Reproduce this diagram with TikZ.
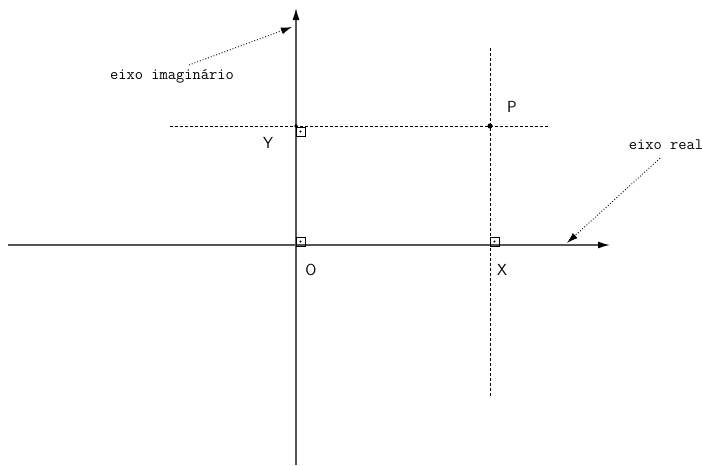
\documentclass[tikz,border=0pt]{standalone}
\usepackage{tikz}
\usetikzlibrary{arrows.meta,positioning}
\definecolor{axisgray}{RGB}{85,85,85}

\begin{document}
\begin{tikzpicture}[x=1pt,y=-1pt,>={Latex[length=12pt,width=7pt,color=black]}]
  \tikzset{
    axisline/.style={->,draw=axisgray,line width=1.4pt},
    guideline/.style={dash pattern=on 3pt off 2pt,line width=0.9pt},
    pointer/.style={->,dotted,line width=0.9pt,>={Latex[length=11pt,width=7pt]}},
    letterlbl/.style={font=\sffamily\fontsize{16}{18}\selectfont,inner sep=0pt},
    wordlbl/.style={font=\ttfamily\fontsize{16}{18}\selectfont,inner sep=0pt},
    rightmark/.style={draw,line width=0.9pt}
  }
  \useasboundingbox (0,0) rectangle (702,466);
  % pontos principais
  \coordinate (O) at (296,245);
  \coordinate (Xp) at (490,245);
  \coordinate (Yp) at (296,126);
  \coordinate (P) at (490,126);
  % eixos
  \coordinate (xstart) at (8,245);
  \coordinate (xend) at (610,245);
  \coordinate (ystart) at (296,465);
  \coordinate (yend) at (296,8);
  \draw[axisline] (xstart)--(xend);
  \draw[axisline] (ystart)--(yend);
  % projecoes
  \coordinate (hleft) at (170,126);
  \coordinate (hright) at (550,126);
  \coordinate (vtop) at (490,48);
  \coordinate (vbot) at (490,396);
  \draw[guideline] (hleft)--(hright);
  \draw[guideline] (vtop)--(vbot);
  \fill (P) circle (2.6pt);
  \fill (Yp) circle (1.8pt);
  % angulos retos
  \draw[rightmark] (296,237) rectangle (305,246);
  \fill (300.5,241.5) circle (1.2pt);
  \draw[rightmark] (490,237) rectangle (499,246);
  \fill (494.5,241.5) circle (1.2pt);
  \draw[rightmark] (296,127) rectangle (305,136);
  \fill (300.5,131.5) circle (1.2pt);
  % rotulos
  \node[letterlbl] (Plab) at (512,107) {P};
  \node[letterlbl] (Ylab) at (268,143) {Y};
  \node[letterlbl] (Olab) at (311,270) {O};
  \node[letterlbl] (Xlab) at (502,270) {X};
  \node[wordlbl] (imlab) at (172,76) {eixo imaginário};
  \node[wordlbl] (relab) at (666,145) {eixo real};
  \coordinate (imtip) at (292,27);
  \coordinate (retip) at (567,243);
  \draw[pointer] ([xshift=17pt,yshift=4pt]imlab.north) -- (imtip);
  \draw[pointer] ([xshift=-6pt,yshift=-8pt]relab.south) -- (retip);
\end{tikzpicture}
\end{document}
